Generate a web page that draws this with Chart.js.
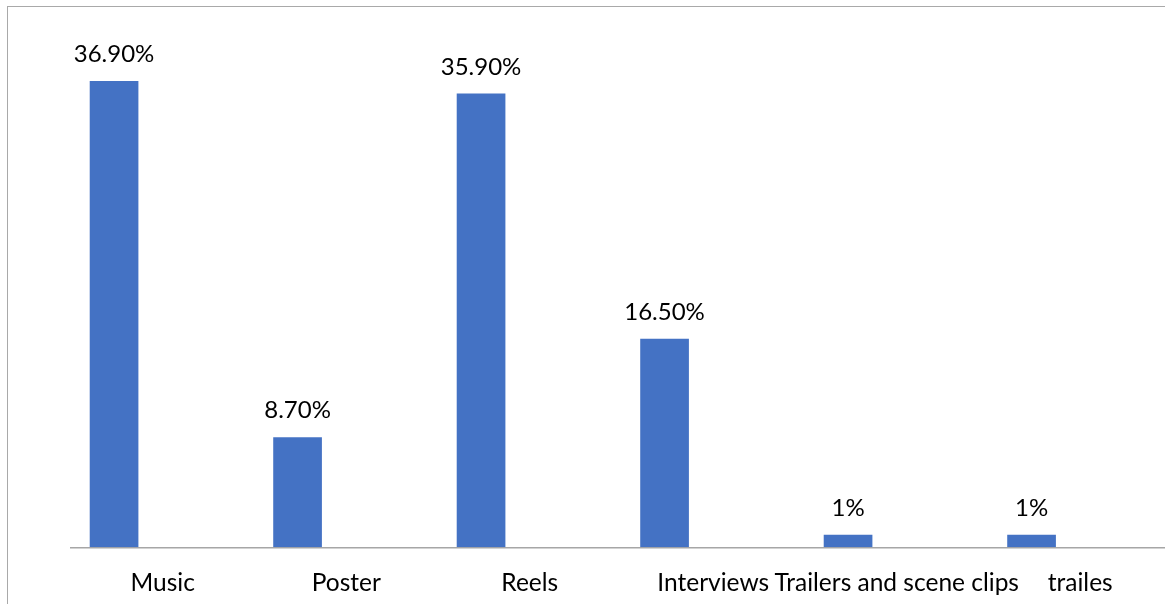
<!DOCTYPE html>
<html>
<head>
<meta charset="utf-8">
<script src="https://cdn.jsdelivr.net/npm/chart.js@4.4.1/dist/chart.umd.min.js"></script>
<style>
  html, body { margin: 0; padding: 0; background: #fff; overflow: hidden; }
  #frame {
    position: absolute; left: 7px; top: 6px; width: 1300px; height: 700px;
    border-left: 1.5px solid #a9a9a9; border-top: 1.5px solid #a9a9a9;
  }
  #wrap { position: absolute; left: 0; top: 0; width: 1172px; height: 604px; }
</style>
</head>
<body>
<div id="frame"></div>
<div id="wrap"><canvas id="chart"></canvas></div>
<script>
const categories = ['Music', 'Poster', 'Reels', 'Interviews', 'Trailers and scene clips', 'trailes']
const shares = [36.9, 8.7, 35.9, 16.5, 1, 1]
// the two other series in the sheet are blank, but they still take their slot in each group
const blankSeriesA = []
const blankSeriesB = []

const FONT = "Lato, 'Open Sans', sans-serif"

const fmtPct = v => Number.isInteger(v) ? v + '%' : v.toFixed(2) + '%'

// value labels above the first series' bars
const barLabels = {
  id: 'barLabels',
  afterDatasetsDraw(chart) {
    const ctx = chart.ctx
    const meta = chart.getDatasetMeta(0)
    ctx.save()
    ctx.font = '24px ' + FONT
    ctx.fillStyle = '#000'
    ctx.textAlign = 'center'
    ctx.textBaseline = 'alphabetic'
    meta.data.forEach((bar, i) => {
      ctx.fillText(fmtPct(shares[i]), bar.x, bar.y - 19)
    })
    ctx.restore()
  }
}

new Chart(document.getElementById('chart'), {
  type: 'bar',
  data: {
    labels: categories,
    datasets: [
      { data: shares, backgroundColor: '#4472C4' },
      { data: blankSeriesA, backgroundColor: '#ED7D31' },
      { data: blankSeriesB, backgroundColor: '#A5A5A5' }
    ]
  },
  options: {
    responsive: true,
    maintainAspectRatio: false,
    animation: false,
    categoryPercentage: 0.796,
    barPercentage: 1,
    layout: { padding: { left: 71, top: 41.7, right: 0, bottom: 0 } },
    plugins: {
      legend: { display: false },
      tooltip: { enabled: false }
    },
    scales: {
      x: {
        grid: { display: false, drawTicks: false },
        border: { display: true, color: '#a6a6a6', width: 1.4 },
        ticks: {
          autoSkip: false,
          maxRotation: 0,
          minRotation: 0,
          padding: 21,
          color: '#000',
          font: { family: FONT, size: 24.5 }
        },
        afterFit(axis) { axis.height = 56.7 }
      },
      y: {
        display: false,
        min: 0,
        max: 40
      }
    }
  },
  plugins: [barLabels]
})
</script>
</body>
</html>
